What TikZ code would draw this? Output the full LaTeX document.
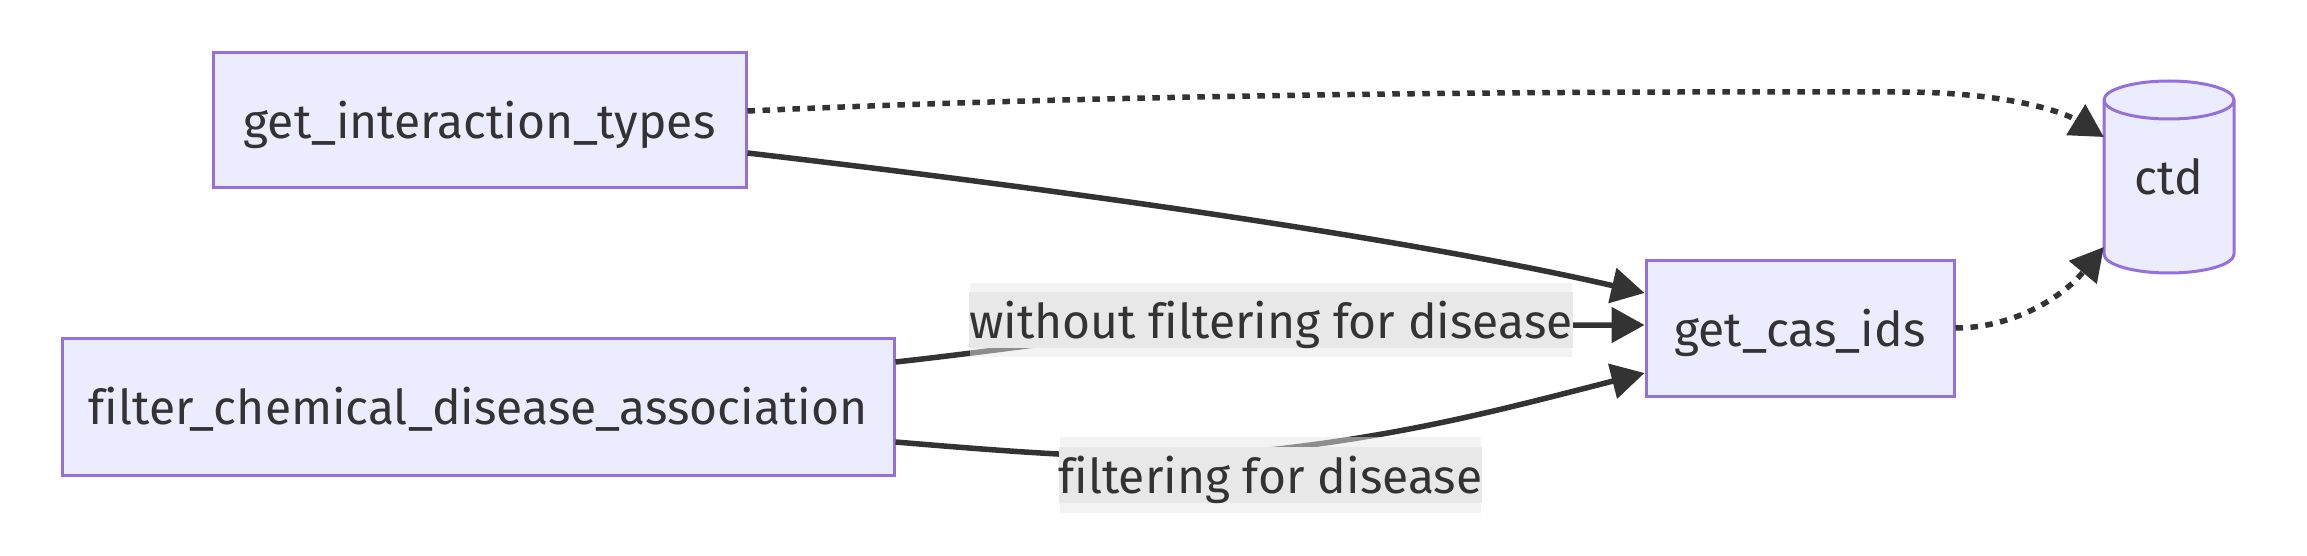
\documentclass[tikz,border=0pt]{standalone}
\usepackage{fontspec}
\setmainfont[Ligatures={NoCommon}]{Fira Sans}
\usetikzlibrary{arrows.meta,calc}
\definecolor{nodefill}{HTML}{ECECFF}
\definecolor{nodeline}{HTML}{9370DB}
\definecolor{edgecol}{HTML}{333333}
\definecolor{labfill}{HTML}{E8E8E8}
\begin{document}
\begin{tikzpicture}[x=1pt,y=-1pt,
  box/.style={draw=nodeline, fill=nodefill, line width=3pt, inner sep=0pt,
    text=edgecol, font=\fontsize{48}{58}\selectfont, text height=36pt, text depth=0pt},
  plain/.style={inner sep=0pt, text=edgecol, font=\fontsize{48}{58}\selectfont,
    text height=36pt, text depth=0pt},
  edge/.style={draw=edgecol, line width=5.5pt, -{Triangle[length=33pt,width=35pt]}},
  dotedge/.style={edge, dash pattern=on 7.5pt off 7.5pt},
  labband/.style={fill=labfill, fill opacity=0.5, inner sep=0pt},
  labcore/.style={fill=labfill, inner sep=0pt, text=edgecol,
    font=\fontsize{48}{58}\selectfont, text height=36pt, text depth=0pt}
]
\useasboundingbox (0,0) rectangle (2307,556);

% nodes
\node[box, minimum width=533pt, minimum height=135pt] (git) at (479.5,120.5) {get\_interaction\_types};
\node[box, minimum width=832pt, minimum height=137pt] (filter) at (478,406.5) {filter\_chemical\_disease\_association};
\node[box, minimum width=308pt, minimum height=136pt] (cas) at (1800,328) {get\_cas\_ids};

% cylinder ctd
\filldraw[fill=nodefill, draw=nodeline, line width=3pt]
  (2104,100) -- (2104,254) arc[start angle=180, end angle=0, x radius=65, y radius=19]
  -- (2234,100) arc[start angle=0, end angle=-180, x radius=65, y radius=19] -- cycle;
\draw[draw=nodeline, line width=3pt] (2104,100) arc[start angle=180, end angle=0, x radius=65, y radius=19];
\node[plain, minimum width=130pt, minimum height=192pt] (ctd) at (2169,177) {ctd};

% edges
\draw[dotedge] ($(git.east)+(0,-9.5)$) .. controls (1100,95) and (1500,91) .. (1900,92)
  .. controls (2000,92) and (2060,110) .. ($(ctd.west)+(0,-40)$);
\draw[edge] ($(git.east)+(0,32.5)$) .. controls (1150,200) and (1450,248) .. ($(cas.west)+(0,-35)$);
\draw[edge] ($(filter.east)+(0,-44.5)$) .. controls (1050,345) and (1150,325) .. (1300,325)
  -- ($(cas.west)+(0,-3)$);
\draw[edge] ($(filter.east)+(0,35.5)$) .. controls (1050,455) and (1150,462) .. (1250,452)
  .. controls (1400,437) and (1500,410) .. ($(cas.west)+(0,45)$);
\draw[dotedge] (cas.east) .. controls (2010,328) and (2060,300) .. ($(ctd.west)+(0,70)$);

% edge labels
\node[labband, minimum width=602pt, minimum height=74pt] (lab1bg) at (1271,320) {};
\node[labcore, minimum width=602pt, minimum height=56pt] (lab1) at (lab1bg.center) {without filtering for disease};
\node[labband, minimum width=421pt, minimum height=76pt] (lab2bg) at (1270.5,475) {};
\node[labcore, minimum width=421pt, minimum height=56pt] (lab2) at (lab2bg.center) {filtering for disease};
\end{tikzpicture}
\end{document}
